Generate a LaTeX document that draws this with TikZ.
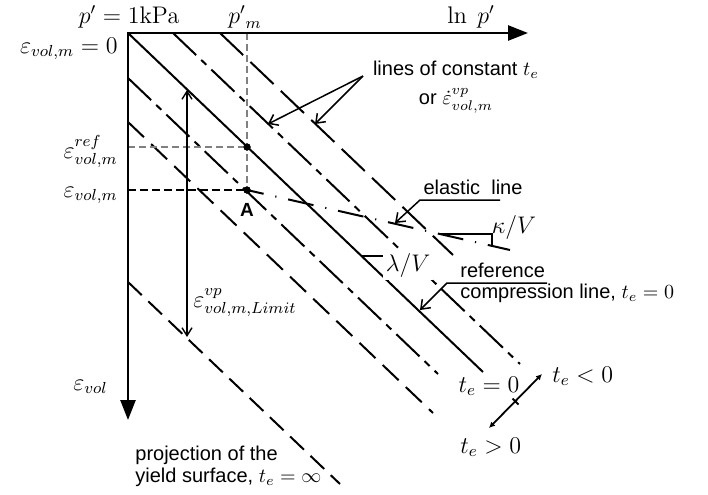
\documentclass[tikz,border=0pt]{standalone}
\usepackage[no-math]{fontspec}
\setmainfont{Liberation Sans}
\usetikzlibrary{arrows.meta}
\begin{document}
\begin{tikzpicture}[x=0.5pt,y=-0.5pt,
 axis/.style={line width=1.3pt},
 diag/.style={line width=1pt},
 ldd/.style={diag,dash pattern=on 16pt off 3.5pt on 3.5pt off 3.5pt},
 ld/.style={diag,dash pattern=on 16pt off 5pt},
 dsh/.style={diag,dash pattern=on 11pt off 5pt},
 ysd/.style={diag,dash pattern=on 9.5pt off 4.5pt},
 elastic/.style={line width=1pt,dash pattern=on 13pt off 6pt on 0.6pt off 6pt,dash phase=4.5pt},
 guide/.style={gray,line width=0.8pt,dash pattern=on 3.5pt off 2pt},
 guideb/.style={black,line width=0.7pt,dash pattern=on 4pt off 2pt},
 lead/.style={line width=0.75pt,-{Straight Barb[length=4pt,width=6pt]}},
 barbs/.style={line width=0.7pt,{Straight Barb[length=4pt,width=5pt]}-{Straight Barb[length=4pt,width=5pt]}},
 dot/.style={circle,fill,inner sep=0pt,minimum size=3.6pt},
 mlab/.style={inner sep=0pt,font=\fontsize{11.5}{13}\selectfont},
 tlab/.style={inner sep=0pt,font=\fontsize{10}{12}\selectfont},
 ]
\useasboundingbox (0,0) rectangle (708,494);
% key points
\coordinate (O) at (128,33);
\coordinate (Xe) at (528,33);
\coordinate (Ye) at (128,420);
\coordinate (R1) at (483,372);
\coordinate (L2s) at (173,33);  \coordinate (L2e) at (520,364);
\coordinate (L1s) at (220,33);  \coordinate (L1e) at (453,255);
\coordinate (Las) at (128,78);  \coordinate (Lae) at (438,374);
\coordinate (Lbs) at (128,122); \coordinate (Lbe) at (433,413);
\coordinate (Ys) at (128,282);  \coordinate (Yend) at (340,484);
% lines of constant t_e
\draw[diag] (O) -- (R1);
\draw[ldd] (L2s) -- (L2e);
\draw[ld] (L1s) -- (L1e);
\draw[ldd] (Las) -- (Lae);
\draw[dsh] (Lbs) -- (Lbe);
\draw[ysd] (Ys) -- (Yend);
% guides and points
\coordinate (Pm) at (247,33);
\coordinate (Eref) at (128,147);
\coordinate (Evm) at (128,190);
\node[dot] (Rd) at (247,147) {};
\node[dot] (A) at (247,190) {};
\draw[guide] (Pm) -- (A.center);
\draw[guide] (Eref) -- (Rd.center);
\draw[guideb] (Evm) -- (A.center);
\node[dot] at (Rd) {};
\node[dot] at (A) {};
% elastic line
\coordinate (Ee) at (510,250);
\draw[elastic] (A.center) -- (Ee);
% kappa triangle
\coordinate (K1) at (440,234);
\coordinate (K2) at (492,234);
\coordinate (K3) at (492,246);
\draw[line width=0.8pt] (K1) -- (K2) -- (K3);
% lambda triangle
\coordinate (Lm1) at (362,256);
\coordinate (Lm2) at (388,256);
\coordinate (Lm3) at (388,281);
\draw[line width=0.8pt] (Lm1) -- (Lm2) -- (Lm3);
\node[mlab,fill=white,inner sep=1.5pt] (lam) at (408,265) {$\lambda/V$};
\node[mlab] (kap) at (514,227) {$\kappa/V$};
% axes
\draw[axis,{Triangle[length=10pt,width=7.5pt]}-{Triangle[length=10pt,width=7.5pt]}] (Xe) -- (O) -- (Ye);
% axis labels
\node[mlab,anchor=base] (p1) at (129,23) {$p' = 1\mathrm{kPa}$};
\node[mlab,anchor=base] (pm) at (245,23) {${p'}_m$};
\node[mlab,anchor=base] (lnp) at (471,23) {$\ln\ p'$};
\node[mlab,anchor=base east] (e0) at (118,53) {$\varepsilon_{vol,m} = 0$};
\node[mlab,anchor=base east] (eref) at (118,158) {$\varepsilon^{ref}_{vol,m}$};
\node[mlab,anchor=base east] (evm) at (118,197) {$\varepsilon_{vol,m}$};
\node[mlab,anchor=base east] (ev) at (108,390) {$\varepsilon_{vol}$};
\node[inner sep=0pt,font=\fontsize{9.5}{11}\selectfont\bfseries] (Alab) at (247,210) {A};
% limit arrow
\coordinate (Lt) at (187,90);
\coordinate (Lb) at (187,337);
\draw[barbs] (Lt) -- (Lb);
\node[mlab,anchor=base west] (elim) at (193,307) {$\varepsilon^{vp}_{vol,m,Limit}$};
% lines of constant t_e label
\node[inner sep=0pt,align=center,font=\fontsize{10}{14.5}\selectfont] (lc) at (456,87)
  {lines of constant $t_e$\\ or $\dot{\varepsilon}^{vp}_{vol,m}$};
\coordinate (LcS) at (363,76);
\coordinate (LcT1) at (268,124);
\coordinate (LcT2) at (315,124);
\draw[lead] (LcS) -- (LcT1);
\draw[lead] (LcS) -- (LcT2);
% elastic line label
\node[tlab] (el) at (473,187) {elastic\ \ line};
\coordinate (El1) at (500,200);
\coordinate (El2) at (420,200);
\coordinate (ElT) at (395,223);
\draw[lead] (El1) -- (El2) -- (ElT);
% reference label
\node[tlab,anchor=west] (rf1) at (460,270) {reference};
\node[tlab,anchor=west] (rf2) at (460,293) {compression line, $t_e = 0$};
\coordinate (Rf1) at (547,283);
\coordinate (Rf2) at (447,283);
\coordinate (RfT) at (420,310);
\draw[lead] (Rf1) -- (Rf2) -- (RfT);
% t_e direction arrow
\coordinate (Tp) at (489,428);
\coordinate (Tm) at (542,374);
\coordinate (Tk1) at (512.5,398.5);
\coordinate (Tk2) at (518.5,404.5);
\draw[line width=0.9pt,{Latex[length=3pt,width=3pt]}-{Latex[length=3pt,width=3pt]}] (Tp) -- (Tm);
\draw[line width=0.9pt] (Tk1) -- (Tk2);
\node[mlab,anchor=base] (t0) at (489,392) {$t_e = 0$};
\node[mlab,anchor=base west] (tn) at (552,382) {$t_e < 0$};
\node[mlab,anchor=base west] (tpz) at (460,453) {$t_e > 0$};
% yield surface label
\node[tlab,anchor=west] (ys1) at (135,455) {projection of the};
\node[tlab,anchor=west] (ys2) at (135,477) {yield surface, $t_e = \infty$};
\end{tikzpicture}
\end{document}
